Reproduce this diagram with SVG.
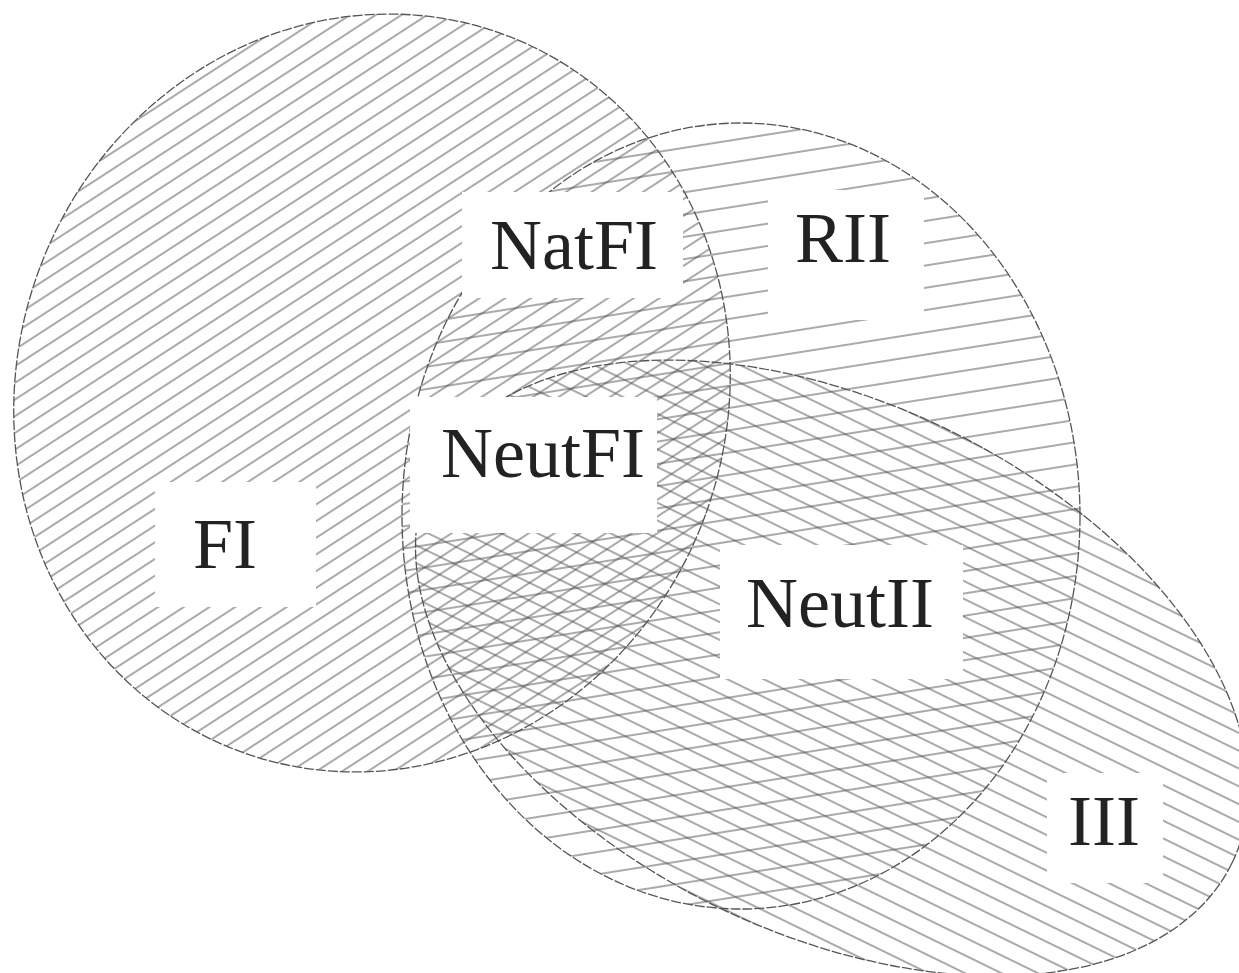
<svg xmlns="http://www.w3.org/2000/svg" width="1239" height="973" viewBox="0 0 1239 973">
  <style>
    .hatch { stroke: #555; stroke-width: 1.1; }
    .outline { fill: none; stroke: #555; stroke-width: 1.3; stroke-dasharray: 10 2; }
    .box { fill: #ffffff; stroke: none; }
    .lbl { font-family: "Liberation Serif", "Times New Roman", serif; font-size: 72px; fill: #222; }
  </style>
  <defs>
    <!-- FI ellipse is drawn rotated by 20deg, so its pattern is turned by -53 to give -33 on screen -->
    <pattern id="hatch-FI" width="40" height="14" patternUnits="userSpaceOnUse" patternTransform="rotate(-53)">
      <line class="hatch" x1="-1" y1="7" x2="41" y2="7"/>
    </pattern>
    <pattern id="hatch-RII" width="40" height="22" patternUnits="userSpaceOnUse" patternTransform="rotate(-9)">
      <line class="hatch" x1="-1" y1="11" x2="41" y2="11"/>
    </pattern>
    <!-- III ellipse is drawn rotated by 26deg, lines follow that angle -->
    <pattern id="hatch-III" width="40" height="16" patternUnits="userSpaceOnUse">
      <line class="hatch" x1="-1" y1="8" x2="41" y2="8"/>
    </pattern>
  </defs>
  <rect width="1239" height="973" fill="#ffffff"/>

  <g id="connectors"></g>

  <g id="set-FI">
    <ellipse cx="0" cy="0" rx="355" ry="382" transform="translate(372,393) rotate(20)" fill="url(#hatch-FI)"/>
  </g>
  <g id="set-RII">
    <ellipse cx="741" cy="516" rx="339" ry="393" fill="url(#hatch-RII)"/>
  </g>
  <g id="set-III">
    <ellipse cx="0" cy="0" rx="445" ry="265" transform="translate(832,668) rotate(26)" fill="url(#hatch-III)"/>
  </g>

  <g id="outlines">
    <ellipse class="outline" cx="0" cy="0" rx="355" ry="382" transform="translate(372,393) rotate(20)"/>
    <ellipse class="outline" cx="741" cy="516" rx="339" ry="393"/>
    <ellipse class="outline" cx="0" cy="0" rx="445" ry="265" transform="translate(832,668) rotate(26)"/>
  </g>

  <g id="label-NatFI">
    <rect class="box" x="462" y="192" width="221" height="106"/>
    <text class="lbl" x="490" y="269">NatFI</text>
  </g>
  <g id="label-RII">
    <rect class="box" x="768" y="190" width="156" height="130"/>
    <text class="lbl" x="795" y="262">RII</text>
  </g>
  <g id="label-NeutFI">
    <rect class="box" x="410" y="397" width="247" height="136"/>
    <text class="lbl" x="441" y="477">NeutFI</text>
  </g>
  <g id="label-FI">
    <rect class="box" x="155" y="482" width="161" height="125"/>
    <text class="lbl" x="193" y="568">FI</text>
  </g>
  <g id="label-NeutII">
    <rect class="box" x="720" y="545" width="243" height="134"/>
    <text class="lbl" x="746" y="627">NeutII</text>
  </g>
  <g id="label-III">
    <rect class="box" x="1047" y="773" width="116" height="110"/>
    <text class="lbl" x="1068" y="845">III</text>
  </g>
</svg>
